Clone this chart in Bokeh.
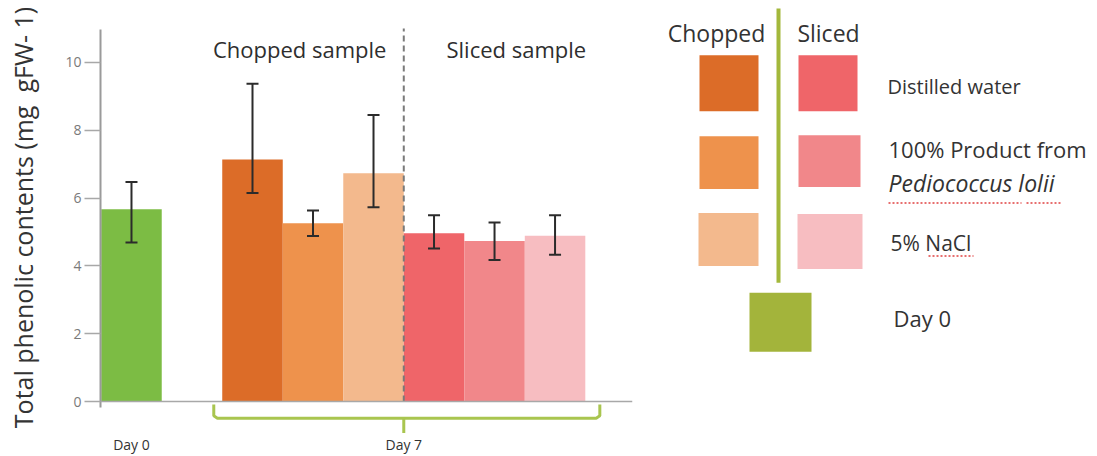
import numpy as np
from bokeh.plotting import figure
from bokeh.models import (ColumnDataSource, Whisker, Range1d, FixedTicker, Span,
                          Label, TeeHead)
from bokeh.layouts import row
from bokeh.embed import file_html
from bokeh.resources import INLINE
from bokeh.core.properties import value

# ---------------- data ----------------
groups = ["Day 0", "Chopped", "Chopped", "Chopped", "Sliced", "Sliced", "Sliced"]
treatments = ["Day 0", "Distilled water", "100% Product from Pediococcus lolii", "5% NaCl",
              "Distilled water", "100% Product from Pediococcus lolii", "5% NaCl"]
means = [5.67, 7.14, 5.26, 6.73, 4.96, 4.73, 4.89]
upper = [6.47, 9.37, 5.63, 8.45, 5.49, 5.28, 5.49]
lower = [4.69, 6.15, 4.88, 5.73, 4.51, 4.17, 4.33]
bar_colors = ["#7CBC44", "#DC6C28", "#EE924C", "#F3B98D", "#EF6569", "#F1878A", "#F7BDC1"]
y_ticks = [0, 2, 4, 6, 8, 10]
y_title = "Total phenolic contents (mg\u00a0\u00a0gFW- 1)"
day_labels = ["Day 0", "Day 7"]
group_titles = ["Chopped sample", "Sliced sample"]
legend_titles = ["Chopped", "Sliced"]
legend_labels = ["Distilled water", "100% Product from", "Pediococcus lolii", "5% NaCl", "Day 0"]
day0_legend_color = "#A3B43B"

FONT = "Open Sans"
H = 456
BOTTOM = 21          # border below the frame (holds the Day labels)
FRAME_H = H - BOTTOM

# slot positions: Day 0 alone, then a gap, then six Day-7 bars side by side
xs = [0] + [2 + i for i in range(len(means) - 1)]
mid = (xs[1] + xs[-1]) / 2

src = ColumnDataSource(dict(x=xs, mean=means, upper=upper, lower=lower,
                            color=bar_colors, group=groups, treatment=treatments))

# ---------------- main chart ----------------
p = figure(width=648, height=H, output_backend="svg", toolbar_location=None, title=None,
           x_range=Range1d(-0.512, 8.28), y_range=Range1d(-0.971, 11.824),
           min_border_left=100, min_border_right=16,
           min_border_top=0, min_border_bottom=BOTTOM)
p.outline_line_color = None
p.xgrid.visible = False
p.ygrid.visible = False
p.background_fill_color = "white"

p.vbar(x="x", top="mean", bottom=0, width=1.0, fill_color="color", line_color=None, source=src)

head_u = TeeHead(size=12, line_color="#2b2b2b", line_width=2)
head_l = TeeHead(size=12, line_color="#2b2b2b", line_width=2)
wh = Whisker(base="x", upper="upper", lower="lower", source=src,
             line_color="#2b2b2b", line_width=2,
             upper_head=head_u, lower_head=head_l, level="overlay")
p.add_layout(wh)

# y axis
ax = p.yaxis[0]
ax.ticker = FixedTicker(ticks=y_ticks)
ax.bounds = (-0.18, 10.97)
ax.axis_line_color = "#9a9a9a"
ax.axis_line_width = 2
ax.major_tick_line_color = "#a8a8a8"
ax.major_tick_line_width = 1.5
ax.major_tick_out = 16
ax.major_tick_in = 0
ax.minor_tick_line_color = None
ax.major_label_standoff = 3
ax.major_label_text_font = FONT
ax.major_label_text_font_size = "14px"
ax.major_label_text_color = "#7a7a7a"
ax.axis_label = y_title
ax.axis_label_text_font = FONT
ax.axis_label_text_font_size = "25px"
ax.axis_label_text_font_style = "normal"
ax.axis_label_text_color = "#333333"
ax.axis_label_standoff = 22

# x axis: only the Day labels
xa = p.xaxis[0]
xa.ticker = FixedTicker(ticks=[xs[0], mid])
xa.major_label_overrides = {xs[0]: day_labels[0], mid: day_labels[1]}
xa.axis_line_color = None
xa.major_tick_line_color = None
xa.minor_tick_line_color = None
xa.major_tick_out = 0
xa.major_tick_in = 0
xa.major_label_standoff = 0
xa.major_label_text_font = FONT
xa.major_label_text_font_size = "14px"
xa.major_label_text_color = "#333333"

# x baseline
p.add_layout(Span(location=0, dimension="width", line_color="#a8a8a8", line_width=1.5))

# divider between chopped and sliced
div_x = (xs[3] + xs[4]) / 2
p.segment(x0=[div_x], y0=[0], x1=[div_x], y1=[11.0], line_color="#7a7a7a",
          line_width=2, line_dash="6 4")

# group titles
p.add_layout(Label(x=2.78, y=10.38, text=group_titles[0], text_font=FONT,
                   text_font_size="22px", text_color="#2e2e2e",
                   text_align="center", text_baseline="middle"))
p.add_layout(Label(x=6.36, y=10.38, text=group_titles[1], text_font=FONT,
                   text_font_size="22px", text_color="#2e2e2e",
                   text_align="center", text_baseline="middle"))

# bracket for Day 7
bl, br = 1.36, 7.74
p.line(x=[bl, bl, bl + 0.06, br - 0.06, br, br],
       y=[-0.09, -0.42, -0.49, -0.49, -0.42, -0.09],
       line_color="#A9C54F", line_width=3)
p.line(x=[mid, mid], y=[-0.49, -0.93], line_color="#A9C54F", line_width=3)

# ---------------- legend panel (page-pixel coordinates) ----------------
lg = figure(width=449, height=H, output_backend="svg", toolbar_location=None,
            title=None, x_range=Range1d(648, 1097), y_range=Range1d(FRAME_H, 0),
            x_axis_location=None, y_axis_location=None,
            min_border=0, min_border_left=0, min_border_right=0,
            min_border_top=0, min_border_bottom=BOTTOM)
lg.outline_line_color = None
lg.xgrid.visible = False
lg.ygrid.visible = False

# vertical divider
lg.line(x=[778, 778], y=[8, 283], line_color="#A3B83B", line_width=4)

lg.text(x=[716, 828], y=[33, 33], text=legend_titles, text_font=value(FONT),
        text_font_size="23px", text_color="#333333", text_align="center",
        text_baseline="middle")

chop_cols = bar_colors[1:4]
slic_cols = bar_colors[4:7]
lg.quad(left=[699, 699, 698], right=[758, 758, 758], top=[55, 136, 213],
        bottom=[111, 189, 266], fill_color=chop_cols, line_color=None)
lg.quad(left=[798, 798, 797], right=[857, 860, 862], top=[55, 135, 214],
        bottom=[111, 187, 269], fill_color=slic_cols, line_color=None)
lg.quad(left=[749], right=[811], top=[293], bottom=[352],
        fill_color=day0_legend_color, line_color=None)

lg.text(x=[887, 888, 890, 893], y=[86, 149, 243, 318],
        text=[legend_labels[0], legend_labels[1], legend_labels[3], legend_labels[4]],
        text_font=value(FONT), text_font_size=["20px", "22px", "21px", "22px"],
        text_color="#333333", text_align="left", text_baseline="middle")
lg.text(x=[888], y=[183], text=[legend_labels[2]], text_font=value(FONT),
        text_font_size="23px", text_font_style="italic", text_color="#333333",
        text_align="left", text_baseline="middle")

# spell-check squiggles
lg.multi_line(xs=[[888, 1021], [1026, 1062], [928, 973]], ys=[[203, 203], [203, 203], [256, 256]],
              line_color="#E04040", line_width=1.5, line_dash="2 2")

layout = row(p, lg)
open("out.html", "w").write(file_html(layout, INLINE))
